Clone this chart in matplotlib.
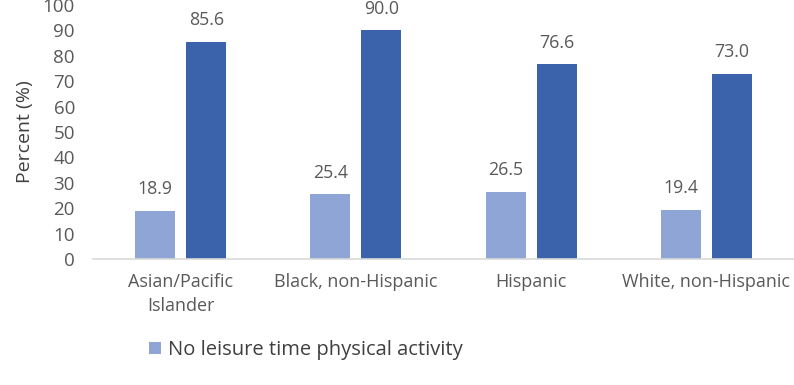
import numpy as np
import matplotlib.pyplot as plt

# Leisure-time physical activity by race/ethnicity
groups = ["Asian/Pacific\nIslander", "Black, non-Hispanic", "Hispanic", "White, non-Hispanic"]
no_activity = [18.9, 25.4, 26.5, 19.4]
second_series = [85.6, 90.0, 76.6, 73.0]
yticks = list(range(0, 101, 10))

light = "#8FA5D6"
dark = "#3B63AC"
text_gray = "#595959"

plt.rcParams["font.family"] = ["Open Sans", "DejaVu Sans"]

fig = plt.figure(figsize=(7.94, 3.85), dpi=100)
ax = fig.add_axes([93 / 794, 126 / 385, 701 / 794, 254 / 385])

x = np.arange(len(groups))
w = 0.228
off = 0.146
b1 = ax.bar(x - off, no_activity, w, color=light, label="No leisure time physical activity")
b2 = ax.bar(x + off, second_series, w, color=dark)

for bars, vals in ((b1, no_activity), (b2, second_series)):
    for r, v in zip(bars, vals):
        ax.annotate(f"{v:.1f}", (r.get_x() + r.get_width() / 2, v),
                    xytext=(0, 9), textcoords="offset points",
                    ha="center", va="bottom", fontsize=12.8, color=text_gray)

ax.set_xlim(-0.5, 3.5)
ax.set_ylim(0, 100)
ax.set_yticks(yticks)
ax.set_xticks(x)
ax.set_xticklabels(groups, fontsize=13, linespacing=1.45)
ax.tick_params(axis="both", length=0, labelcolor=text_gray)
ax.tick_params(axis="y", labelsize=13.5, pad=13)
ax.tick_params(axis="x", pad=10)
ax.set_ylabel("Percent (%)", fontsize=14, color="#404040", labelpad=6)

for s in ("top", "right", "left"):
    ax.spines[s].set_visible(False)
ax.spines["bottom"].set_color("#D9D9D9")
ax.spines["bottom"].set_linewidth(1.2)

fig.legend(handles=[b1], loc="center left", bbox_to_anchor=(131 / 794, 1 - 350 / 385),
           frameon=False, fontsize=14.5, handlelength=0.6, handleheight=0.6,
           handletextpad=0.35, labelcolor="#404040")

fig.savefig("out.png", dpi=100)
